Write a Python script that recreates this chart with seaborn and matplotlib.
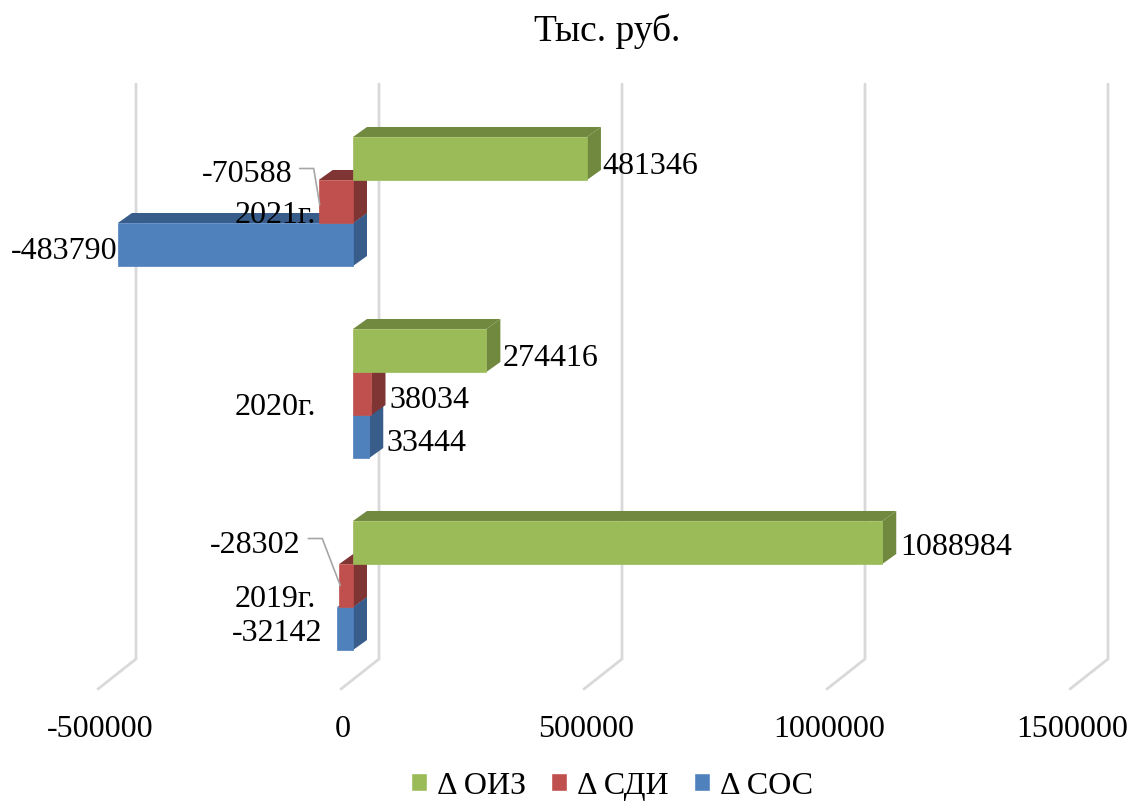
import numpy as np
import pandas as pd
import seaborn as sns
import matplotlib.pyplot as plt
from matplotlib.colors import to_hex
from matplotlib.patches import Polygon
from matplotlib.transforms import ScaledTranslation

years = ['2021г.', '2020г.', '2019г.']
series = ['Δ ОИЗ', 'Δ СДИ', 'Δ СОС']
d_oiz = [481346, 274416, 1088984]
d_sdi = [-70588, 38034, -28302]
d_sos = [-483790, 33444, -32142]
x_ticks = [-500000, 0, 500000, 1000000, 1500000]

colors = ['#9BBB59', '#C0504D', '#4F81BD']
dark = {'#9bbb59': '#71893F', '#c0504d': '#7F3533', '#4f81bd': '#385D8A'}

# pixel layout of the picture
PX_X0 = 353
PX_PER_X = 243 / 500000
PX_Y0 = 202.5
PX_PER_CAT = 192
AX_TOP = 75
AX_BOTTOM = 700
DX, DY = 14, 10
FS = 23

df = pd.DataFrame({
    'year': years * 3,
    'series': np.repeat(series, 3),
    'value': d_oiz + d_sdi + d_sos,
})

sns.set_theme(style='white')
plt.rcParams['font.family'] = ['Liberation Serif', 'DejaVu Sans']
plt.rcParams['text.color'] = 'black'

fig = plt.figure(figsize=(11.31, 8.03), dpi=100)
ax = fig.add_axes([0, 1 - AX_BOTTOM / 803, 1, (AX_BOTTOM - AX_TOP) / 803])
sns.barplot(data=df, y='year', x='value', hue='series', order=years, hue_order=series,
            palette=colors, width=0.672, gap=0, saturation=1, orient='h', ax=ax)

def xd(px):
    return (px - PX_X0) / PX_PER_X

def yd(px):
    return (px - PX_Y0) / PX_PER_CAT

ax.set_xlim(xd(0), xd(1131))
ax.set_ylim(yd(AX_BOTTOM), yd(AX_TOP))
ax.set_xlabel('')
ax.set_ylabel('')
for s in ax.spines.values():
    s.set_visible(False)

# fake 3d walls: gridline at the back, foot going to the front
for v in x_ticks:
    bx = v + 26 / PX_PER_X
    fx = v - 12 / PX_PER_X
    ax.plot([bx, bx, fx], [yd(85), yd(660), yd(690)], color='#D9D9D9', lw=2,
            zorder=0.5, clip_on=False, solid_joinstyle='miter')

# fake 3d depth of the bars, drawn back to front
dx = DX / PX_PER_X
dy = DY / PX_PER_CAT
bars = [p for p in ax.patches if p.get_width() != 0]
bars = sorted(bars, key=lambda p: -p.get_y())
for i, p in enumerate(bars):
    z = 2 + i
    x0, x1 = sorted([p.get_x(), p.get_x() + p.get_width()])
    y0, y1 = sorted([p.get_y(), p.get_y() + p.get_height()])
    c = dark[to_hex(p.get_facecolor())]
    p.set_zorder(z + 0.2)
    p.set_edgecolor(p.get_facecolor())
    p.set_linewidth(0.5)
    ax.add_patch(Polygon([(x0, y0), (x1, y0), (x1 + dx, y0 - dy), (x0 + dx, y0 - dy)],
                         fc=c, ec='none', zorder=z))
    ax.add_patch(Polygon([(x1, y0), (x1 + dx, y0 - dy), (x1 + dx, y1 - dy), (x1, y1)],
                         fc=c, ec='none', zorder=z + 0.1))

# value labels, offsets in px from the bar end
offsets = {
    -483790: (0, 5.5), -70588: (-26, -28.5), -28302: (-39, -40.5), -32142: (-15, 3.5),
    481346: (15, 7), 274416: (16, 7.5), 38034: (18, 6.5), 33444: (17, 5.5), 1088984: (18, 4.5),
}
leaders = {
    -70588: [(-19, -33), (-5, -33), (1, 3)],
    -28302: [(-31, -47), (-17, -47), (1, 0)],
}
for i, yr in enumerate(years):
    for j, (name, vals) in enumerate(zip(series, [d_oiz, d_sdi, d_sos])):
        v = vals[i]
        yc = i + (j - 1) * 0.672 / 3
        ox, oy = offsets[v]
        ax.annotate(str(v), (v, yc), xytext=(ox * 0.72, -oy * 0.72), textcoords='offset points',
                    ha='left' if v > 0 else 'right', va='center', fontsize=FS,
                    color='black', zorder=30)
        if v in leaders:
            ax.plot([v + a / PX_PER_X for a, b in leaders[v]],
                    [yc + b / PX_PER_CAT for a, b in leaders[v]],
                    color='#A6A6A6', lw=1.2, zorder=25)

ax.set_xticks(x_ticks)
ax.set_xticklabels([str(v) for v in x_ticks], fontsize=FS, color='black')
ax.tick_params(axis='x', length=0, pad=10.5, labelcolor='black')
shift_x = ScaledTranslation(-10 / 100, 0, fig.dpi_scale_trans)
for lab in ax.get_xticklabels():
    lab.set_transform(lab.get_transform() + shift_x)

ax.spines['left'].set_position(('data', 0))
ax.tick_params(axis='y', length=0, pad=26.5, labelsize=FS, labelcolor='black')
shift_y = ScaledTranslation(0, -9.5 / 100, fig.dpi_scale_trans)
for lab in ax.get_yticklabels():
    lab.set_transform(lab.get_transform() + shift_y)
ax.yaxis.set_zorder(40)

handles, labels = ax.get_legend_handles_labels()
ax.legend(handles, labels, loc='center', bbox_to_anchor=(612 / 1131, 1 - 787 / 803),
          bbox_transform=fig.transFigure, ncol=3, frameon=False, fontsize=FS,
          handlelength=0.5, handleheight=0.5, handletextpad=0.3, columnspacing=0.8,
          borderpad=0, title=None, labelcolor='black')

fig.text(607 / 1131, 1 - 31 / 803, 'Тыс. руб.', ha='center', va='center', fontsize=27, color='black')
fig.savefig('out.png', dpi=100)
